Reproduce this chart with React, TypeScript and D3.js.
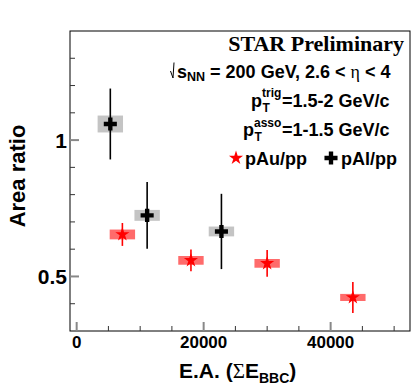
import React from 'react';
import * as d3 from 'd3';

// pAu/pp (red stars)
const pAuEA = [7200, 18000, 30000, 43500];
const pAuRatio = [0.654, 0.559, 0.548, 0.423];
const pAuStat = [0.042, 0.04, 0.049, 0.057];
const pAuSys = [0.018, 0.016, 0.016, 0.013];

// pAl/pp (black crosses)
const pAlEA = [5300, 11100, 22800];
const pAlRatio = [1.059, 0.724, 0.665];
const pAlStat = [0.13, 0.122, 0.138];
const pAlSys = [0.031, 0.02, 0.018];

const sysHalfWidth = 2000;
const xTickLabels = [0, 20000, 40000];
const yTickLabels = [0.5, 1];

const sans = 'Liberation Sans, Arial, Helvetica, sans-serif';
const serif = 'Liberation Serif, Times New Roman, serif';

const App = () => {
  const svgWidth = 415,
    svgHeight = 390;
  const frame = { left: 70, right: 410, top: 31, bottom: 331 };

  const x = d3.scaleLinear().domain([-1050, 52500]).range([frame.left, frame.right]);
  const y = d3.scaleLinear().domain([0.3, 1.4]).range([frame.bottom, frame.top]);

  const xMinor = d3.range(0, 52500, 5000);
  const yMinor = d3.range(0.4, 1.4, 0.1);

  const star = d3.symbol().type(d3.symbolStar).size(62)();
  const cross = d3.symbol().type(d3.symbolCross).size(95)();

  const pAu = pAuEA.map((ea, i) => ({ ea, r: pAuRatio[i], stat: pAuStat[i], sys: pAuSys[i] }));
  const pAl = pAlEA.map((ea, i) => ({ ea, r: pAlRatio[i], stat: pAlStat[i], sys: pAlSys[i] }));

  return (
    <svg
      width={svgWidth}
      height={svgHeight}
      style={{ position: 'absolute', left: 0, top: 0, background: '#fff' }}
    >
      {/* frame */}
      <rect
        x={frame.left}
        y={frame.top}
        width={frame.right - frame.left}
        height={frame.bottom - frame.top}
        fill="none"
        stroke="#000"
        strokeWidth={1}
      />

      {/* x ticks */}
      {xMinor.map((t) => (
        <line
          key={'xm' + t}
          x1={x(t)}
          x2={x(t)}
          y1={frame.bottom}
          y2={frame.bottom - (t % 20000 === 0 ? 9 : 5)}
          stroke={t % 20000 === 0 ? '#888' : '#333'}
          strokeWidth={t % 20000 === 0 ? 2 : 1}
        />
      ))}
      {xTickLabels.map((t) => (
        <text
          key={'xl' + t}
          x={x(t)}
          y={348}
          textAnchor="middle"
          fontFamily={sans}
          fontWeight="bold"
          fontSize={17}
        >
          {t}
        </text>
      ))}

      {/* y ticks */}
      {yMinor.map((t) => {
        const major = Math.abs(t - 0.5) < 1e-6 || Math.abs(t - 1) < 1e-6;
        return (
          <line
            key={'ym' + t.toFixed(1)}
            x1={frame.left}
            x2={frame.left + (major ? 9 : 5)}
            y1={y(t)}
            y2={y(t)}
            stroke={major ? '#888' : '#333'}
            strokeWidth={major ? 2 : 1}
          />
        );
      })}
      {yTickLabels.map((t) => (
        <text
          key={'yl' + t}
          x={frame.left - 3}
          y={y(t)}
          dy="0.36em"
          textAnchor="end"
          fontFamily={sans}
          fontWeight="bold"
          fontSize={21}
        >
          {t}
        </text>
      ))}

      {/* axis titles */}
      <text
        transform="translate(25,176) rotate(-90)"
        textAnchor="middle"
        fontFamily={sans}
        fontWeight="bold"
        fontSize={22}
      >
        Area ratio
      </text>
      <text x={179} y={378} fontFamily={sans} fontWeight="bold" fontSize={21}>
        E.A. (
        <tspan fontFamily={serif} fontWeight="normal">
          Σ
        </tspan>
        E
        <tspan fontSize={14} dy={5}>
          BBC
        </tspan>
        <tspan dy={-5}>)</tspan>
      </text>

      {/* systematic boxes */}
      {pAl.map((d, i) => (
        <rect
          key={'alsys' + i}
          x={x(d.ea - sysHalfWidth)}
          width={x(d.ea + sysHalfWidth) - x(d.ea - sysHalfWidth)}
          y={y(d.r + d.sys)}
          height={y(d.r - d.sys) - y(d.r + d.sys)}
          fill="#c4c4c4"
        />
      ))}
      {pAu.map((d, i) => (
        <rect
          key={'ausys' + i}
          x={x(d.ea - sysHalfWidth)}
          width={x(d.ea + sysHalfWidth) - x(d.ea - sysHalfWidth)}
          y={y(d.r + d.sys)}
          height={y(d.r - d.sys) - y(d.r + d.sys)}
          fill="#ff0000"
          fillOpacity={0.58}
        />
      ))}

      {/* stat errors */}
      {pAl.map((d, i) => (
        <line
          key={'alerr' + i}
          x1={x(d.ea)}
          x2={x(d.ea)}
          y1={y(d.r + d.stat)}
          y2={y(d.r - d.stat)}
          stroke="#000"
          strokeWidth={1.6}
        />
      ))}
      {pAu.map((d, i) => (
        <line
          key={'auerr' + i}
          x1={x(d.ea)}
          x2={x(d.ea)}
          y1={y(d.r + d.stat)}
          y2={y(d.r - d.stat)}
          stroke="#ff0000"
          strokeWidth={1.6}
        />
      ))}

      {/* markers */}
      {pAl.map((d, i) => (
        <path key={'al' + i} d={cross} transform={`translate(${x(d.ea)},${y(d.r)})`} fill="#000" />
      ))}
      {pAu.map((d, i) => (
        <path key={'au' + i} d={star} transform={`translate(${x(d.ea)},${y(d.r)})`} fill="#ff0000" />
      ))}

      {/* labels */}
      <text x={404} y={51} textAnchor="end" fontFamily={serif} fontWeight="bold" fontSize={22}>
        STAR Preliminary
      </text>

      <path d="M170.5,71 L173,78 L174,62.5" fill="none" stroke="#000" strokeWidth={1} />
      <text x={177} y={78} fontFamily={sans} fontWeight="bold" fontSize={18}>
        s
        <tspan fontSize={12.5} dy={3}>
          NN
        </tspan>
        <tspan dy={-3}> = 200 GeV, 2.6 &lt; </tspan>
        <tspan fontFamily={serif} fontWeight="normal">
          η
        </tspan>
        {' < 4'}
      </text>

      <text x={251} y={107} fontFamily={sans} fontWeight="bold" fontSize={18}>
        p
      </text>
      <text x={262} y={97} fontFamily={sans} fontWeight="bold" fontSize={12}>
        trig
      </text>
      <text x={262.5} y={111.5} fontFamily={sans} fontWeight="bold" fontSize={12}>
        T
      </text>
      <text x={282} y={107} fontFamily={sans} fontWeight="bold" fontSize={18}>
        =1.5-2 GeV/c
      </text>

      <text x={243} y={136} fontFamily={sans} fontWeight="bold" fontSize={18}>
        p
      </text>
      <text x={254} y={126.5} fontFamily={sans} fontWeight="bold" fontSize={12}>
        asso
      </text>
      <text x={254.5} y={140.5} fontFamily={sans} fontWeight="bold" fontSize={12}>
        T
      </text>
      <text x={282} y={136} fontFamily={sans} fontWeight="bold" fontSize={18}>
        =1-1.5 GeV/c
      </text>

      {/* legend */}
      <path d={star} transform="translate(236,158)" fill="#ff0000" />
      <text x={245} y={165} fontFamily={sans} fontWeight="bold" fontSize={18}>
        pAu/pp
      </text>
      <path d={cross} transform="translate(331,158)" fill="#000" />
      <text x={341} y={165} fontFamily={sans} fontWeight="bold" fontSize={18}>
        pAl/pp
      </text>
    </svg>
  );
};

export default App;
